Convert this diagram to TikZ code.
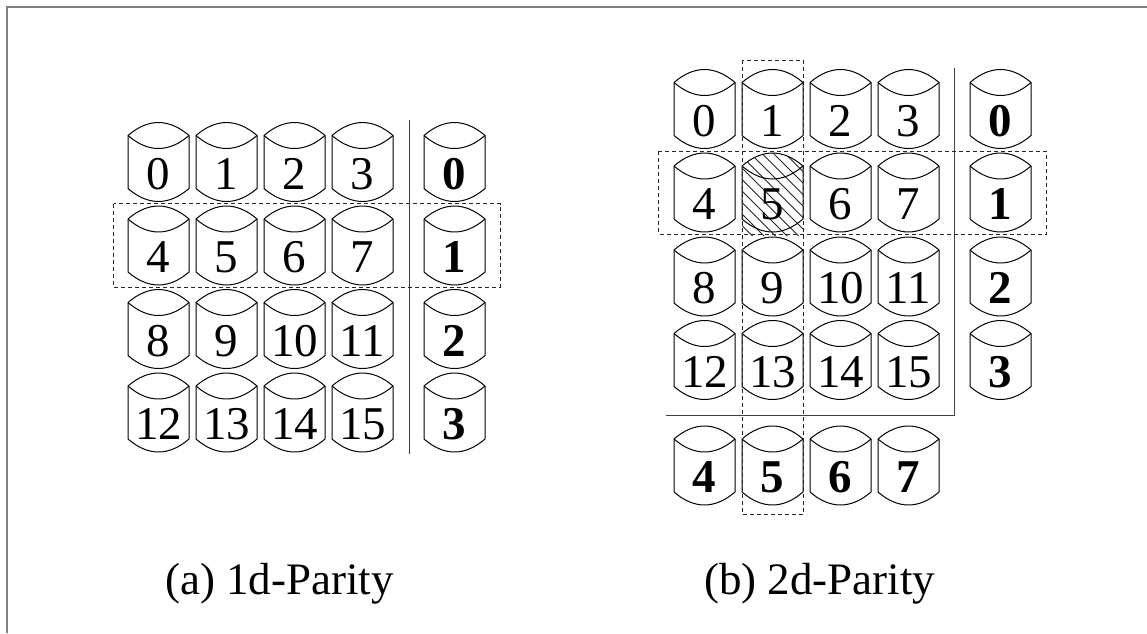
\documentclass[tikz,border=0pt]{standalone}
\usepackage{fontspec}
\setmainfont{Liberation Serif}
\tikzset{
  cylline/.style={draw=black,line width=1pt},
  cyllabel/.style={anchor=base,inner sep=0pt,font=\fontsize{47}{47}\selectfont},
  partlabel/.style={anchor=base west,inner sep=0pt,font=\fontsize{45}{45}\selectfont},
  rulebar/.style={draw=black!75,line width=1pt},
  dashbox/.style={draw=black!85,line width=0.9pt,dash pattern=on 4pt off 3pt},
  hatchline/.style={draw=black!85,line width=0.8pt},
  frameline/.style={draw=black!50,line width=1.5pt}
}
% name, x, y, text
\newcommand{\cylpath}[2]{(#1,#2+13) .. controls (#1+20,#2-4.3) and (#1+41,#2-4.3) .. (#1+61,#2+13) -- (#1+61,#2+66) .. controls (#1+41,#2+83.3) and (#1+20,#2+83.3) .. (#1,#2+66) -- cycle}
\newcommand{\cyl}[4]{%
  \draw[cylline] \cylpath{#2}{#3};
  \draw[cylline] (#2,#3+13) .. controls (#2+20,#3+30.3) and (#2+41,#3+30.3) .. (#2+61,#3+13);
  \node[cyllabel] (#1) at (#2+30.5,#3+66.5) {#4};
}
\begin{document}
\begin{tikzpicture}[x=1pt,y=-1pt]
\useasboundingbox (0,0) rectangle (1147,633);
\draw[frameline] (1147,7) -- (7,7) -- (7,633);
% left panel
\foreach \c/\x in {0/128,1/196,2/264,3/332}{
  \foreach \r/\y in {0/122.5,1/206,2/289.5,3/373}{
    \pgfmathtruncatemacro{\n}{\r*4+\c}
    \cyl{a\n}{\x}{\y}{\n}
  }
}
\foreach \r/\y in {0/122.5,1/206,2/289.5,3/373}{
  \cyl{ap\r}{424}{\y}{\textbf{\r}}
}
\draw[rulebar] (409,120) -- (409,454);
\draw[dashbox] (113.5,203.5) rectangle (500,287);
% right panel: hatch under cylinder
\begin{scope}
  \clip (742,166) .. controls (762,148.7) and (783,148.7) .. (803,166) -- (803,236) -- (742,236) -- cycle;
  \foreach \k in {0,...,14}{
    \draw[hatchline] (742+\k*11.5-84,153) -- ++(84,84);
  }
\end{scope}
\foreach \c/\x in {0/674,1/742,2/810,3/878}{
  \foreach \r/\y in {0/69.5,1/153,2/237,3/320.5}{
    \pgfmathtruncatemacro{\n}{\r*4+\c}
    \cyl{b\n}{\x}{\y}{\n}
  }
}
\foreach \r/\y in {0/69.5,1/153,2/237,3/320.5}{
  \cyl{bp\r}{970}{\y}{\textbf{\r}}
}
\foreach \c/\x in {4/674,5/742,6/810,7/878}{
  \cyl{bq\c}{\x}{426}{\textbf{\c}}
}
\draw[rulebar] (954,68) -- (954,415.5) -- (666,415.5);
\draw[dashbox] (742,60) rectangle (803,514.5);
\draw[dashbox] (658.5,151) rectangle (1046,234);
\node[partlabel] (capa) at (165,594) {(a) 1d-Parity};
\node[partlabel] (capb) at (704,594) {(b) 2d-Parity};
\end{tikzpicture}
\end{document}
